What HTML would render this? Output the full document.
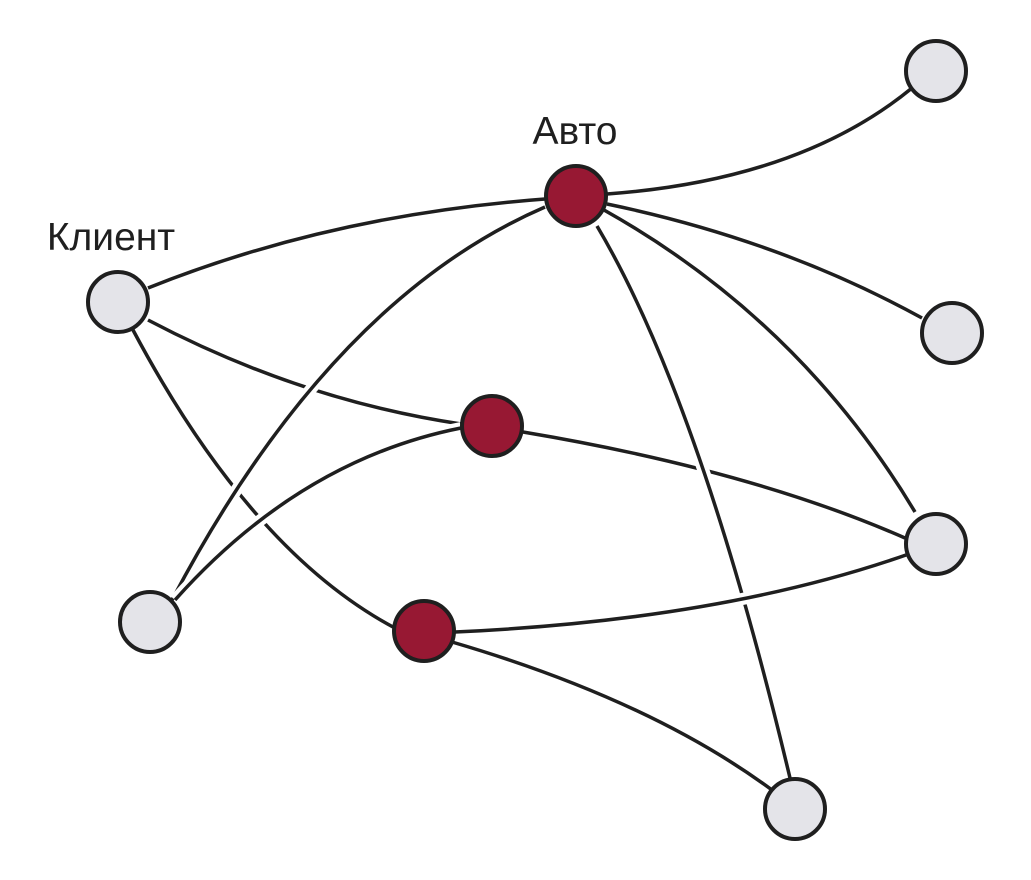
<!DOCTYPE html>
<html><head><meta charset="utf-8"><style>
html,body{margin:0;padding:0;background:#fff;width:1031px;height:880px;overflow:hidden}
</style></head><body>
<svg width="1031" height="880" viewBox="0 0 1031 880" xmlns="http://www.w3.org/2000/svg">
<g fill="none">
<g stroke="#fff" stroke-width="12">
<path d="M607,194 Q800,180 912,88"/>
<path d="M148,288 Q330,215 545,199"/>
<path d="M607,204 Q780,240 922,318"/>
<path d="M604,210 Q800,320 915,512"/>
</g>
<g stroke="#1f1f1f" stroke-width="3.5">
<path d="M607,194 Q800,180 912,88"/>
<path d="M148,288 Q330,215 545,199"/>
<path d="M607,204 Q780,240 922,318"/>
<path d="M604,210 Q800,320 915,512"/>
</g>
<path d="M148,320 Q300,400 461,424" stroke="#fff" stroke-width="12"/>
<path d="M148,320 Q300,400 461,424" stroke="#1f1f1f" stroke-width="3.5"/>
<path d="M133,330 Q250,550 393,627" stroke="#fff" stroke-width="12"/>
<path d="M133,330 Q250,550 393,627" stroke="#1f1f1f" stroke-width="3.5"/>
<path d="M523,432 Q750,470 905,538" stroke="#fff" stroke-width="12"/>
<path d="M523,432 Q750,470 905,538" stroke="#1f1f1f" stroke-width="3.5"/>
<path d="M597,226 Q700,400 790,778" stroke="#fff" stroke-width="12"/>
<path d="M597,226 Q700,400 790,778" stroke="#1f1f1f" stroke-width="3.5"/>
<path d="M455,632 Q720,620 906,555" stroke="#fff" stroke-width="12"/>
<path d="M455,632 Q720,620 906,555" stroke="#1f1f1f" stroke-width="3.5"/>
<path d="M545,207 Q330,300 172,600" stroke="#fff" stroke-width="12"/>
<path d="M545,207 Q330,300 172,600" stroke="#1f1f1f" stroke-width="3.5"/>
<path d="M461,428 Q300,460 175,600" stroke="#fff" stroke-width="12"/>
<path d="M461,428 Q300,460 175,600" stroke="#1f1f1f" stroke-width="3.5"/>
<path d="M452,642 Q650,700 772,790" stroke="#fff" stroke-width="12"/>
<path d="M452,642 Q650,700 772,790" stroke="#1f1f1f" stroke-width="3.5"/>
</g>
<g stroke="#1f1f1f" stroke-width="4">
<circle cx="576" cy="196" r="30" fill="#971833"/>
<circle cx="492" cy="426" r="30" fill="#971833"/>
<circle cx="424" cy="631" r="30" fill="#971833"/>
<circle cx="118" cy="302" r="30" fill="#e4e4e9"/>
<circle cx="936" cy="71" r="30" fill="#e4e4e9"/>
<circle cx="952" cy="333" r="30" fill="#e4e4e9"/>
<circle cx="936" cy="544" r="30" fill="#e4e4e9"/>
<circle cx="150" cy="622" r="30" fill="#e4e4e9"/>
<circle cx="795" cy="809" r="30" fill="#e4e4e9"/>
</g>
<g font-family="Liberation Sans, DejaVu Sans, sans-serif" font-size="39" fill="#1f1f1f" text-anchor="middle">
<text x="575" y="144">Авто</text>
<text x="111" y="250">Клиент</text>
</g>
</svg>
</body></html>
